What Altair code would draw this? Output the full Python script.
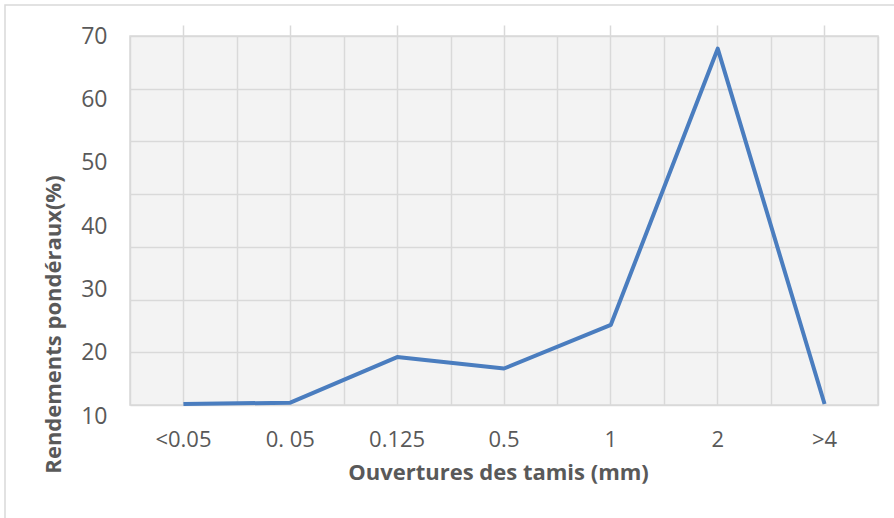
import altair as alt
import pandas as pd

# Sieve openings (mm) and weight yields (%)
ouvertures = ["<0.05", "0. 05", "0.125", "0.5", "1", "2", ">4"]
rendements = [11.9, 12.1, 19.3, 17.5, 24.4, 68.0, 11.9]
graduations = [10, 20, 30, 40, 50, 60, 70]

df = pd.DataFrame({"ouverture": ouvertures, "rendement": rendements})

TEXT = "#595959"
GRID = "#d9d9d9"
BLUE = "#4a7dbf"
FONT = "Open Sans"

band = alt.Scale(type="band", paddingInner=0, paddingOuter=0)

# Main layer: the yield curve with its labelled axes
courbe = alt.Chart(df).mark_line(color=BLUE, strokeWidth=4, strokeJoin="round").encode(
    x=alt.X(
        "ouverture:N",
        sort=ouvertures,
        bandPosition=0.5,
        scale=band,
        axis=alt.Axis(
            orient="bottom",
            title="Ouvertures des tamis (mm)",
            labelAngle=0,
            labelFont=FONT,
            labelFontSize=22,
            labelColor=TEXT,
            labelPadding=34,
            labelBaseline="middle",
            ticks=False,
            tickSize=0,
            domain=False,
            grid=True,
            gridColor=GRID,
            gridWidth=1.5,
            tickBand="center",
            titleFont=FONT,
            titleFontSize=22,
            titleFontWeight="bold",
            titleColor=TEXT,
            titleX=368,
            titleY=67,
            titleAlign="center",
            titleBaseline="middle",
        ),
    ),
    y=alt.Y(
        "rendement:Q",
        scale=alt.Scale(domain=[10, 70], range=[380, 0], nice=False, zero=False),
        axis=alt.Axis(
            orient="left",
            values=graduations,
            title="Rendements pondéraux(%)",
            labelFont=FONT,
            labelFontSize=23,
            labelColor=TEXT,
            labelPadding=23,
            ticks=False,
            tickSize=0,
            domain=False,
            grid=False,
            titleFont=FONT,
            titleFontSize=22,
            titleFontWeight="bold",
            titleColor=TEXT,
            titleAngle=270,
            titleX=-77,
            titleY=288,
            titleAlign="center",
            titleBaseline="middle",
        ),
    ),
)

# Grid layer: band boundaries on x, seven equal intervals on y
no_label = dict(labels=False, ticks=False, domain=False, title=None,
                grid=True, gridColor=GRID, gridWidth=1.5)
grille = alt.Chart(df).mark_line(opacity=0).encode(
    x=alt.X("ouverture:N", sort=ouvertures, bandPosition=0.5, scale=band,
            axis=alt.Axis(orient="top", tickBand="extent", **no_label)),
    y=alt.Y("rendement:Q", scale=alt.Scale(domain=[0, 7], nice=False, zero=False),
            axis=alt.Axis(orient="right", values=list(range(8)), **no_label)),
)

# Thin frame around the whole chart area
cadre = alt.Chart(alt.Data(values=[{}])).mark_rect(
    fillOpacity=0, stroke=GRID, strokeWidth=1.5
).encode(
    x=alt.value(-125), x2=alt.value(800), y=alt.value(-31), y2=alt.value(520)
)

chart = (
    alt.layer(cadre, grille, courbe)
    .resolve_scale(y="independent")
    .resolve_axis(x="independent")
    .properties(
        width=748,
        height=369,
        autosize=alt.AutoSizeParams(type="none"),
        padding={"left": 130, "top": 36, "right": 16, "bottom": 113},
        background="white",
    )
    .configure_view(fill="#f3f3f3", stroke=GRID, strokeWidth=1.5)
)

chart.save("out.html", embed_options={"renderer": "svg", "actions": False})
